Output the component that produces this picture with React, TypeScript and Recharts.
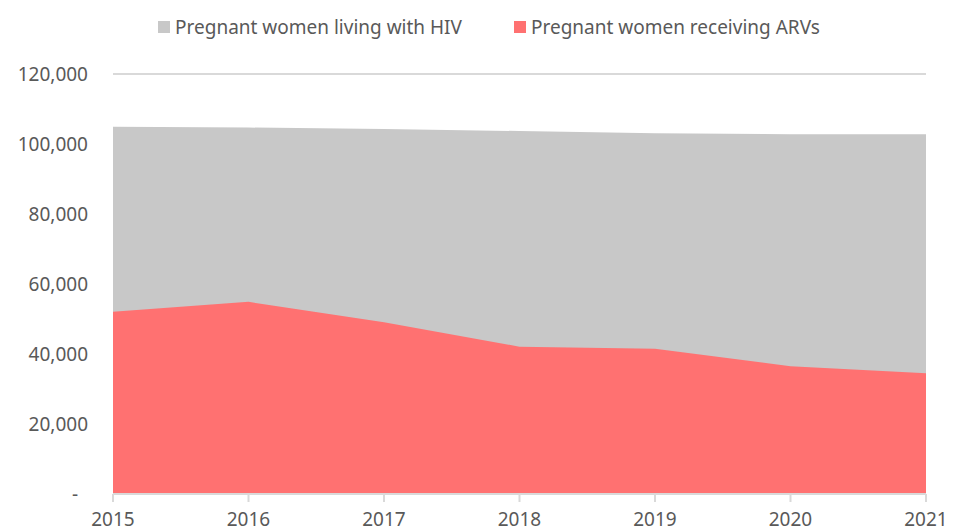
import { AreaChart, Area, XAxis, YAxis, CartesianGrid, Legend } from "recharts";

const years = ["2015", "2016", "2017", "2018", "2019", "2020", "2021"];
const livingWithHiv = [104900, 104700, 104300, 103700, 103100, 102800, 102800];
const receivingArvs = [52100, 54900, 49100, 42100, 41500, 36500, 34500];
const yTicks = [0, 20000, 40000, 60000, 80000, 100000, 120000];

const data = years.map((year, i) => ({
  year,
  living: livingWithHiv[i],
  receiving: receivingArvs[i],
}));

const GRAY = "#c8c8c8";
const RED = "#ff7171";
const TEXT = "#595959";
const FONT = "'Noto Sans', sans-serif";

// excel-style accounting format: zero shows as a dash, pushed a bit left
const YTick = (props: any) => {
  const { x, y, payload } = props;
  const v = payload.value as number;
  return (
    <text
      x={v === 0 ? x - 10 : x}
      y={y}
      dy="0.355em"
      textAnchor="end"
      fontSize={19}
      fill={TEXT}
      fontFamily={FONT}
    >
      {v === 0 ? "-" : v.toLocaleString("en-US")}
    </text>
  );
};

export default function App() {
  return (
    <div style={{ position: "absolute", left: 0, top: 0, fontFamily: FONT }}>
      <AreaChart
        width={971}
        height={530}
        data={data}
        margin={{ top: 34, right: 45, left: 0, bottom: 0 }}
      >
        <CartesianGrid vertical={false} stroke="#d9d9d9" strokeWidth={2} />
        <XAxis
          dataKey="year"
          axisLine={{ stroke: "#d9d9d9", strokeWidth: 2 }}
          tickLine={{ stroke: "#d9d9d9", strokeWidth: 2 }}
          tickSize={8}
          tickMargin={11}
          height={36}
          interval={0}
          tick={{ fontSize: 19, fill: TEXT, fontFamily: FONT }}
        />
        <YAxis
          width={113}
          domain={[0, 120000]}
          ticks={yTicks}
          axisLine={false}
          tickLine={false}
          tickSize={0}
          tickMargin={25}
          tick={<YTick />}
        />
        <Legend
          verticalAlign="top"
          height={40}
          wrapperStyle={{ top: 14 }}
          content={() => (
            <div
              style={{
                display: "flex",
                justifyContent: "center",
                gap: 52,
                fontSize: 19,
                color: TEXT,
                fontFamily: FONT,
                paddingLeft: 52,
              }}
            >
              {[
                { label: "Pregnant women living with HIV", color: GRAY },
                { label: "Pregnant women receiving ARVs", color: RED },
              ].map((item) => (
                <span key={item.label} style={{ display: "flex", alignItems: "center" }}>
                  <span
                    style={{
                      width: 12,
                      height: 12,
                      background: item.color,
                      display: "inline-block",
                      marginRight: 5,
                    }}
                  />
                  {item.label}
                </span>
              ))}
            </div>
          )}
        />
        <Area
          type="linear"
          dataKey="living"
          name="Pregnant women living with HIV"
          stroke="none"
          fill={GRAY}
          fillOpacity={1}
          isAnimationActive={false}
        />
        <Area
          type="linear"
          dataKey="receiving"
          name="Pregnant women receiving ARVs"
          stroke="none"
          fill={RED}
          fillOpacity={1}
          isAnimationActive={false}
        />
      </AreaChart>
    </div>
  );
}
